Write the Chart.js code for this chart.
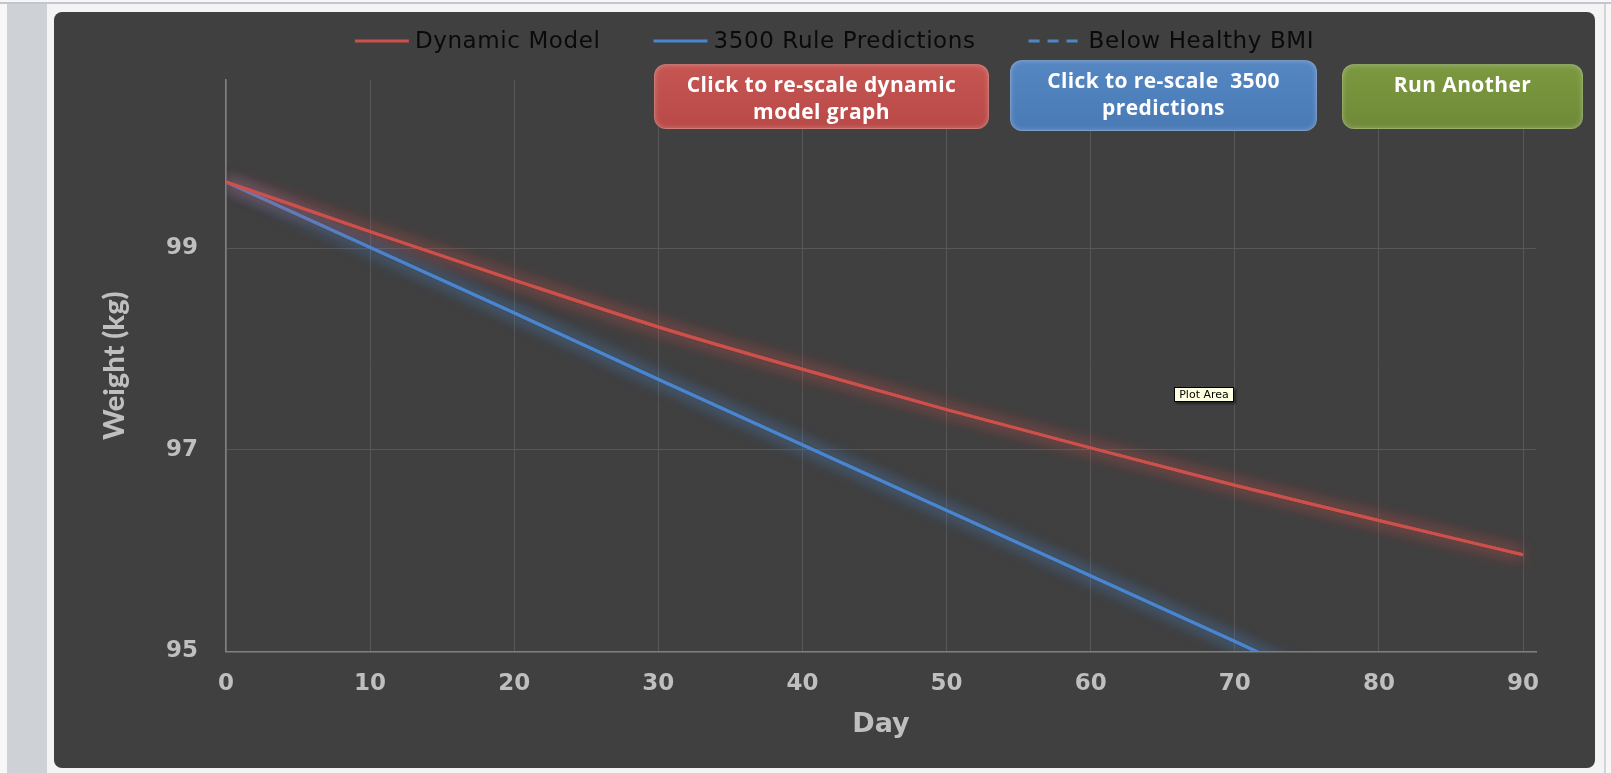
<!DOCTYPE html>
<html>
<head>
<meta charset="utf-8">
<script src="https://cdn.jsdelivr.net/npm/chart.js@4.4.1/dist/chart.umd.min.js"></script>
<style>
  html, body { margin: 0; padding: 0; width: 1611px; height: 773px; overflow: hidden; background: #f7f7f7; position: relative; }
  #sideStrip { position: absolute; left: 7px; top: 4px; width: 40px; height: 769px; background: #ced2d7; }
  #topRule { position: absolute; left: 0; top: 2px; width: 1611px; height: 2px; background: #c2c7cf; }
  #frame { position: absolute; left: 47px; top: 4px; width: 1557px; height: 769px; background: #f4f4f4; }
  #rightRule { position: absolute; left: 1604px; top: 4px; width: 2px; height: 769px; background: #d4d4d4; }
  #panel { position: absolute; left: 54px; top: 12px; width: 1541px; height: 756px; background: #404040; border-radius: 8px; overflow: hidden; }
  #panel canvas { position: absolute; left: 0; top: 0; }
  .btn {
    position: absolute; box-sizing: border-box; color: #ffffff; text-align: center;
    font-family: "Open Sans", sans-serif; font-weight: 700; font-size: 21px; line-height: 27px; letter-spacing: 0.4px;
    padding-top: 6px; border-radius: 12px; border: 1px solid rgba(255,255,255,0.22);
    box-shadow: inset 0 0 5px rgba(255,255,255,0.25);
  }
  #btnDynamic { left: 654px; top: 64px; width: 335px; height: 65px; background: linear-gradient(#c65652, #c0504d 45%, #b94a47); }
  #btnRule { left: 1010px; top: 60px; width: 307px; height: 71px; background: linear-gradient(#5586c1, #4f81bd 45%, #4a7ab4); }
  #btnAgain { left: 1342px; top: 64px; width: 241px; height: 65px; background: linear-gradient(#7c9942, #76933c 45%, #6f8a38); }
  #tip { position: absolute; left: 1174px; top: 387px; width: 60px; height: 15px; box-sizing: border-box;
    background: #ffffe1; border: 1px solid #000; font: 11px "DejaVu Sans", sans-serif; line-height: 13px;
    color: #000; text-align: center; box-shadow: 2px 2px 2px rgba(0,0,0,0.45); white-space: nowrap; overflow: hidden; }
</style>
</head>
<body>
<div id="topRule"></div>
<div id="sideStrip"></div>
<div id="frame"></div>
<div id="rightRule"></div>
<div id="panel"><canvas id="weightChart" width="1541" height="756"></canvas></div>
<div class="btn" id="btnDynamic">Click to re-scale dynamic<br>model graph</div>
<div class="btn" id="btnRule">Click to re-scale&nbsp; 3500<br>predictions</div>
<div class="btn" id="btnAgain">Run Another</div>
<div id="tip">Plot Area</div>

<script>
// Day of the diet
const days = [0, 10, 20, 30, 40, 50, 60, 70, 80, 90];
// Body weight (kg) from the dynamic energy-balance model
const dynamicModel = [99.66, 99.165, 98.685, 98.22, 97.80, 97.40, 97.02, 96.65, 96.30, 95.96];
// Body weight (kg) predicted by the 3500 kcal-per-pound rule
const rule3500 = [99.66, 99.01, 98.36, 97.70, 97.05, 96.40, 95.75, 95.10, 94.44, 93.79];
// Weight threshold series (nothing falls inside the visible range)
const belowHealthyBMI = [];

const xTickValues = [0, 10, 20, 30, 40, 50, 60, 70, 80, 90];
const yTickValues = [95, 97, 99];
const xRange = [0, 90.9];
const yRange = [95, 100.67];

const RED = '#cd504b';
const BLUE = '#4a86d0';
const BLUE_DASH = '#4f86c6';
const AXIS_TEXT = '#bfbfbf';
const GRID = '#575757';
const AXIS_LINE = '#808080';

const toPoints = (xs, ys) => ys.map((y, i) => ({ x: xs[i], y }));

// Soft glow around each series line: the line is stroked a second time
// with the shadow still active, clipped to the plot area.
const glowPlugin = {
  id: 'lineGlow',
  beforeDatasetDraw(chart, args) {
    const ds = chart.data.datasets[args.index];
    if (!ds.glowColor) return;
    chart.ctx.save();
    chart.ctx.shadowColor = ds.glowColor;
    chart.ctx.shadowBlur = 16;
  },
  afterDatasetDraw(chart, args) {
    const ds = chart.data.datasets[args.index];
    if (!ds.glowColor) return;
    const ctx = chart.ctx;
    const a = chart.chartArea;
    ctx.save();
    ctx.beginPath();
    ctx.rect(a.left, a.top, a.right - a.left, a.bottom - a.top);
    ctx.clip();
    args.meta.dataset.draw(ctx, a);
    ctx.restore();
    ctx.restore();
  }
};

// Series key across the top: line sample followed by the series name
const seriesKeyPlugin = {
  id: 'seriesKey',
  afterDraw(chart) {
    const ctx = chart.ctx;
    const markW = 54, gap = 6, spacing = 53, y = 29;
    ctx.save();
    ctx.font = '23px "DejaVu Sans", sans-serif';
    if ('letterSpacing' in ctx) ctx.letterSpacing = '0.6px';
    const items = chart.data.datasets.map(ds => ({
      text: ds.label, color: ds.borderColor, dash: ds.borderDash || [],
      w: ctx.measureText(ds.label).width
    }));
    const total = items.reduce((s, it) => s + markW + gap + it.w, 0) + spacing * (items.length - 1);
    let x = (chart.width - total) / 2 + 10;
    items.forEach(it => {
      ctx.beginPath();
      ctx.setLineDash(it.dash);
      ctx.strokeStyle = it.color;
      ctx.lineWidth = 3;
      ctx.moveTo(x, y);
      ctx.lineTo(x + markW, y);
      ctx.stroke();
      ctx.setLineDash([]);
      ctx.fillStyle = '#0a0a0a';
      ctx.textBaseline = 'middle';
      ctx.textAlign = 'left';
      ctx.fillText(it.text, x + markW + gap, y + 1);
      x += markW + gap + it.w + spacing;
    });
    ctx.restore();
  }
};

new Chart(document.getElementById('weightChart'), {
  type: 'line',
  data: {
    datasets: [
      {
        label: 'Dynamic Model',
        data: toPoints(days, dynamicModel),
        borderColor: RED, backgroundColor: RED, glowColor: 'rgba(205,80,75,0.9)',
        borderWidth: 3, pointRadius: 0, cubicInterpolationMode: 'monotone'
      },
      {
        label: '3500 Rule Predictions',
        data: toPoints(days, rule3500),
        borderColor: BLUE, backgroundColor: BLUE, glowColor: 'rgba(74,134,208,0.9)',
        borderWidth: 3, pointRadius: 0
      },
      {
        label: 'Below Healthy BMI',
        data: toPoints(days, belowHealthyBMI),
        borderColor: BLUE_DASH, backgroundColor: BLUE_DASH,
        borderDash: [11, 8], borderWidth: 3, pointRadius: 0
      }
    ]
  },
  options: {
    responsive: false,
    animation: false,
    events: [],
    layout: { padding: { top: 68, right: 59, left: 0, bottom: 0 } },
    plugins: { legend: { display: false }, tooltip: { enabled: false } },
    scales: {
      x: {
        type: 'linear', min: xRange[0], max: xRange[1],
        afterBuildTicks: s => { s.ticks = xTickValues.map(v => ({ value: v })); },
        afterFit: s => { s.height = 116.5; },
        grid: { color: GRID, lineWidth: 1, drawTicks: false },
        border: { color: AXIS_LINE, width: 1.5 },
        ticks: { color: AXIS_TEXT, padding: 19, font: { family: '"DejaVu Sans"', size: 23, weight: 'bold' } },
        title: { display: true, text: 'Day', color: AXIS_TEXT, padding: { top: 0, bottom: 27 },
                 font: { family: '"DejaVu Sans"', size: 27, weight: 'bold' } }
      },
      y: {
        type: 'linear', min: yRange[0], max: yRange[1],
        afterBuildTicks: s => { s.ticks = yTickValues.map(v => ({ value: v })); },
        afterFit: s => { s.width = 172; },
        grid: { color: GRID, lineWidth: 1, drawTicks: false },
        border: { color: AXIS_LINE, width: 1.5 },
        ticks: { color: AXIS_TEXT, padding: 28, font: { family: '"DejaVu Sans"', size: 23, weight: 'bold' } },
        title: { display: true, text: 'Weight (kg)', color: AXIS_TEXT, padding: { top: 43, bottom: 0 },
                 font: { family: 'Lato', size: 29, weight: 900 } }
      }
    }
  },
  plugins: [glowPlugin, seriesKeyPlugin]
});
</script>
</body>
</html>
